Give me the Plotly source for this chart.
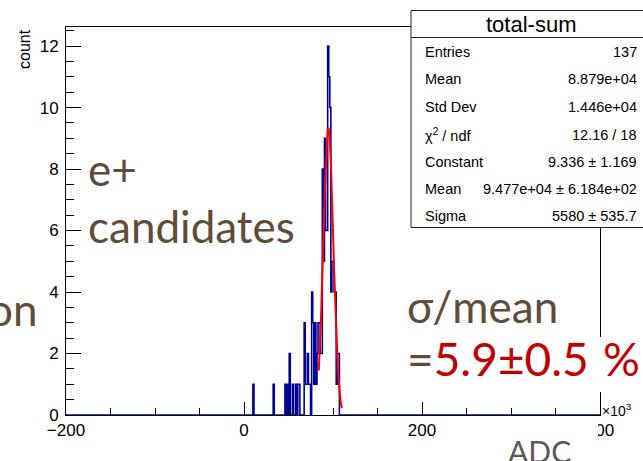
import numpy as np
import plotly.graph_objects as go

# ---------------- data ----------------
# histogram: 500 bins from -200e3 to 400e3 ADC (bin width 1.2e3); values in units of 10^3 ADC
hist_lo_k = -200.0
hist_hi_k = 400.0
n_bins = 500
# centres (10^3 ADC) and counts of the non-empty bins
bin_centers_k = [10.6, 33.4, 46.6, 49.0, 51.4, 55.0, 58.6, 61.0, 62.2,
                 68.2, 69.4, 70.6, 71.8, 73.0, 74.2, 76.6, 77.8, 79.0, 80.2,
                 81.4, 82.6, 83.8, 85.0, 86.2, 87.4,
                 88.6, 89.8, 91.0, 92.2, 93.4, 94.6, 95.8, 97.0, 98.2, 99.4,
                 100.6, 101.8, 103.0, 104.2, 105.4, 106.6]
bin_counts = [1, 1, 1, 1, 2, 1, 1, 1, 1,
              3, 1, 1, 2, 1, 1, 4, 3, 1, 3,
              1, 2, 3, 3, 2, 2,
              8, 5, 9, 6, 6, 12, 11, 10, 4, 5,
              5, 4, 4, 1, 2, 2]

# gaussian fit result shown in the stats box
fit_constant = 9.336
fit_mean_k = 94.77
fit_sigma_k = 5.580
fit_range_k = [84.0, 110.0]

x_tick_vals = [-200, 0, 200, 400]
x_tick_text = ["\u2212200", "0", "200", "400"]
y_tick_vals = [0, 2, 4, 6, 8, 10, 12]

stats_title = "total-sum"
stats_labels = ["Entries", "Mean", "Std Dev", "\u03c7<sup>2</sup> / ndf", "Constant", "Mean", "Sigma"]
stats_values = ["137", "8.879e+04", "1.446e+04", "12.16 / 18", "9.336 \u00b1 1.169",
                "9.477e+04 \u00b1 6.184e+02", "5580 \u00b1 535.7"]

# ---------------- build histogram ----------------
width_k = (hist_hi_k - hist_lo_k) / n_bins
edges = hist_lo_k + width_k * np.arange(n_bins + 1)
counts = np.zeros(n_bins)
for c, n in zip(bin_centers_k, bin_counts):
    idx = int(np.floor((c - hist_lo_k) / width_k))
    counts[idx] += n
ys = list(counts) + [counts[-1]]

fx = np.linspace(fit_range_k[0], fit_range_k[1], 300)
fy = fit_constant * np.exp(-0.5 * ((fx - fit_mean_k) / fit_sigma_k) ** 2)

# ---------------- layout helpers (pixel -> paper) ----------------
W, H = 643, 461
L, R, T, B = 66, 600, 27, 415


def px(x):
    return (x - L) / (R - L)


def py(y):
    return (B - y) / (B - T)


ROOT_FONT = "Liberation Sans, Arial, Helvetica, sans-serif"
SLIDE_FONT = "Lato, Noto Sans, sans-serif"
BROWN = "#5f4c3b"
RED = "#c00000"

fig = go.Figure()
fig.add_trace(go.Scatter(x=edges, y=ys, mode="lines",
                         line=dict(color="#000099", width=1.6, shape="hv"),
                         hoverinfo="skip", showlegend=False))
fig.add_trace(go.Scatter(x=fx, y=fy, mode="lines",
                         line=dict(color="#ff0000", width=2),
                         hoverinfo="skip", showlegend=False))

annotations = []


def ann(text, x, y, size, color="black", family=ROOT_FONT, xanchor="left", yanchor="middle", angle=0):
    annotations.append(dict(text=text, x=px(x), y=py(y), xref="paper", yref="paper",
                            xanchor=xanchor, yanchor=yanchor, showarrow=False,
                            textangle=angle, font=dict(family=family, size=size, color=color)))


# axis title / exponent
ann("count", 24, 49, 16, angle=-90, xanchor="center")
ann("\u00d710<sup>3</sup>", 600, 410, 14)

# stats box text
ann(stats_title, 531, 24, 22, xanchor="center")
row_y = [52, 79.5, 107, 134.5, 162, 189, 216]
for lab, val, yy in zip(stats_labels, stats_values, row_y):
    ann(lab, 423, yy, 14.5)
    ann(val, 639, yy, 14.5, xanchor="right")

# slide overlay text
ann("e+", 86, 169, 44, BROWN, SLIDE_FONT)
ann("candidates", 86, 226, 44, BROWN, SLIDE_FONT)
ann("on", 40, 309, 44, BROWN, SLIDE_FONT, xanchor="right")
ann("\u03c3/mean", 405, 306, 44, BROWN, SLIDE_FONT)
ann("<span style='color:%s'>=</span>5.9\u00b10.5" % BROWN, 405, 358, 46, RED, SLIDE_FONT)
ann("%", 601, 358, 46, RED, SLIDE_FONT)
ann("ADC", 506, 451, 30, "#595959", SLIDE_FONT)

shapes = [
    # stats box
    dict(type="rect", xref="paper", yref="paper", x0=px(411), x1=px(660), y0=py(10.5), y1=py(227.5),
         fillcolor="white", line=dict(color="#222222", width=1), layer="above"),
    dict(type="line", xref="paper", yref="paper", x0=px(411), x1=px(660), y0=py(37.5), y1=py(37.5),
         line=dict(color="#222222", width=1), layer="above"),
    # white text boxes of the slide overlay
    dict(type="rect", xref="paper", yref="paper", x0=px(594), x1=px(660), y0=py(337), y1=py(392),
         fillcolor="white", line=dict(width=0), layer="above"),
    dict(type="rect", xref="paper", yref="paper", x0=px(470), x1=px(598), y0=py(420), y1=py(470),
         fillcolor="white", line=dict(width=0), layer="above"),
]

fig.update_layout(
    width=W, height=H,
    margin=dict(l=L, r=W - R, t=T, b=H - B, pad=0),
    paper_bgcolor="white", plot_bgcolor="white",
    showlegend=False,
    annotations=annotations,
    shapes=shapes,
    xaxis=dict(range=[hist_lo_k, hist_hi_k], tickvals=x_tick_vals, ticktext=x_tick_text,
               ticks="inside", ticklen=13, tickwidth=1, tickcolor="black",
               minor=dict(dtick=50, ticks="inside", ticklen=7, tickcolor="black", showgrid=False),
               showgrid=False, zeroline=False, showline=True, mirror=True,
               linecolor="black", linewidth=1,
               tickfont=dict(family=ROOT_FONT, size=17, color="black")),
    yaxis=dict(range=[0, 12.62], tickvals=y_tick_vals,
               ticks="inside", ticklen=15, tickwidth=1, tickcolor="black",
               minor=dict(dtick=0.5, ticks="inside", ticklen=8, tickcolor="black", showgrid=False),
               showgrid=False, zeroline=False, showline=True, mirror=True,
               linecolor="black", linewidth=1, ticklabelstandoff=3,
               tickfont=dict(family=ROOT_FONT, size=17, color="black")),
)

fig.write_html("out.html", config={"displayModeBar": False},
               post_script="document.body.style.margin='0';document.body.style.padding='0';")
